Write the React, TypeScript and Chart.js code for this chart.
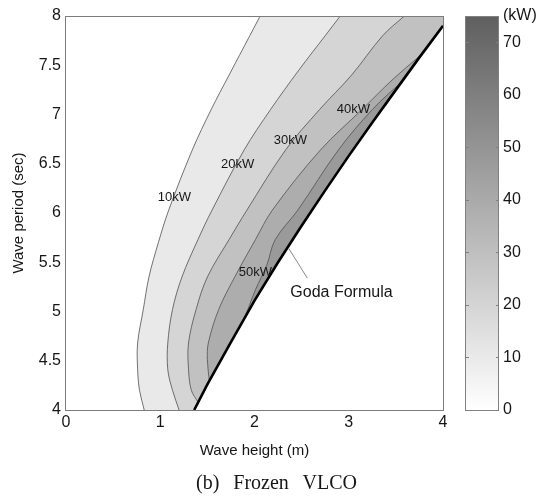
import React, { useEffect, useRef } from 'react';
import { Chart, registerables } from 'chart.js';

Chart.register(...registerables);

// ---- Contour lines (wave height H [m], wave period T [s]) ----
const C10_H = [0.83, 0.78, 0.76, 0.76, 0.82, 0.88, 0.98, 1.09, 1.34, 1.54, 1.73, 1.95, 2.06];
const C10_T = [4.0, 4.2, 4.41, 4.68, 5.02, 5.35, 5.7, 6.03, 6.64, 7.05, 7.4, 7.8, 8.0];

const C20_H = [1.2, 1.13, 1.08, 1.08, 1.13, 1.23, 1.4, 1.55, 1.89, 2.17, 2.47, 2.75, 2.91];
const C20_T = [4.0, 4.2, 4.41, 4.68, 5.02, 5.35, 5.73, 6.03, 6.64, 7.05, 7.45, 7.8, 8.0];

const C30_H = [1.4, 1.33, 1.3, 1.3, 1.38, 1.5, 1.73, 1.92, 2.33, 2.69, 3.03, 3.36, 3.59];
const C30_T = [4.08, 4.2, 4.41, 4.68, 5.02, 5.35, 5.73, 6.03, 6.64, 7.05, 7.4, 7.8, 8.0];

const C40_H = [1.52, 1.5, 1.51, 1.62, 1.79, 2.01, 2.19, 2.7, 3.14, 3.46, 3.76];
const C40_T = [4.3, 4.51, 4.68, 5.02, 5.35, 5.73, 6.03, 6.64, 7.05, 7.35, 7.6];

const C50_H = [1.73, 1.88, 2.01, 2.13, 2.22, 2.46, 2.89, 3.25, 3.57];
const C50_T = [4.66, 4.91, 5.22, 5.47, 5.73, 6.03, 6.64, 7.05, 7.34];

// Goda formula boundary
const GODA_H = [1.36, 1.5, 1.75, 2.0, 2.25, 2.5, 2.75, 3.0, 3.25, 3.5, 3.75, 4.0];
const GODA_T = [4.0, 4.26, 4.69, 5.11, 5.5, 5.87, 6.23, 6.58, 6.92, 7.25, 7.58, 7.9];

// Contour labels
const LEVEL_TEXT = ['10kW', '20kW', '30kW', '40kW', '50kW'];
const LEVEL_LABEL_H = [1.15, 1.82, 2.38, 3.05, 2.01];
const LEVEL_LABEL_T = [6.16, 6.49, 6.74, 7.05, 5.4];

// Goda formula annotation
const GODA_TEXT = 'Goda Formula';
const GODA_TEXT_H = 2.38;
const GODA_TEXT_T = 5.19;
const LEADER_H = [2.36, 2.56];
const LEADER_T = [5.645, 5.34];

// Axes
const X_MIN = 0, X_MAX = 4, X_STEP = 1;
const Y_MIN = 4, Y_MAX = 8, Y_STEP = 0.5;
const X_TITLE = 'Wave height (m)';
const Y_TITLE = 'Wave period (sec)';

// Colour bar
const CB_MIN = 0;
const CB_MAX = 75;
const CB_TICKS = [0, 10, 20, 30, 40, 50, 60, 70, 75];
const CB_UNIT = '(kW)';

const CAPTION = '(b)  Frozen  VLCO';

const BAND_COLORS = ['#e9e9e9', '#d5d5d5', '#c1c1c1', '#adadad', '#9a9a9a'];
const FONT = "'Liberation Sans', Arial, sans-serif";
const TEXT_COLOR = '#161616';
const TENSION = 0.35;

type Pt = { x: number; y: number };
const pts = (h: number[], t: number[]): Pt[] => h.map((x, i) => ({ x, y: t[i] }));

export default function App() {
  const mainRef = useRef<HTMLCanvasElement | null>(null);
  const cbRef = useRef<HTMLCanvasElement | null>(null);

  useEffect(() => {
    Chart.defaults.font.family = FONT;
    Chart.defaults.font.size = 15;
    Chart.defaults.color = TEXT_COLOR;

    const contours: [number[], number[], boolean][] = [
      [C10_H, C10_T, true],
      [C20_H, C20_T, true],
      [C30_H, C30_T, true],
      [C40_H, C40_T, false],
      [C50_H, C50_T, false],
    ];

    // Filled band: contour, then a continuation of its last step (outside the
    // coloured area) and far-away points so that the closing path lies outside
    // the plot or under the white mask beyond the Goda boundary.
    const regionSets = contours.map(([h, t, top], i) => {
      const d = pts(h, t);
      const n = d.length;
      const last = d[n - 1];
      const prev = d[n - 2];
      d.push({ x: 2 * last.x - prev.x, y: 2 * last.y - prev.y });
      if (top) d.push({ x: X_MAX + 0.5, y: Y_MAX + 0.5 });
      d.push({ x: X_MAX + 0.5, y: Y_MIN - 0.5 });
      return {
        data: d,
        showLine: true,
        fill: 'shape',
        tension: TENSION,
        capBezierPoints: false,
        backgroundColor: BAND_COLORS[i],
        borderColor: 'rgba(0,0,0,0)',
        borderWidth: 0,
        pointRadius: 0,
        order: 30 - i,
      };
    });

    const lineSets = contours.map(([h, t]) => ({
      data: pts(h, t),
      showLine: true,
      fill: false,
      tension: TENSION,
      capBezierPoints: false,
      borderColor: '#505050',
      borderWidth: 0.8,
      pointRadius: 0,
      order: 15,
    }));

    const maskData = pts(GODA_H, GODA_T);
    maskData.push({ x: X_MAX + 0.5, y: GODA_T[GODA_T.length - 1] - 0.2 });
    maskData.push({ x: X_MAX + 0.5, y: Y_MIN - 0.5 });
    maskData.push({ x: GODA_H[0], y: Y_MIN - 0.5 });
    const maskSet = {
      data: maskData,
      showLine: true,
      fill: 'shape',
      backgroundColor: '#ffffff',
      borderColor: 'rgba(0,0,0,0)',
      borderWidth: 0,
      pointRadius: 0,
      order: 10,
    };

    const godaSet = {
      data: pts(GODA_H, GODA_T),
      showLine: true,
      fill: false,
      borderColor: '#000000',
      borderWidth: 2.6,
      pointRadius: 0,
      order: 5,
    };

    const leaderSet = {
      data: pts(LEADER_H, LEADER_T),
      showLine: true,
      fill: false,
      borderColor: '#8a8a8a',
      borderWidth: 1,
      pointRadius: 0,
      order: 4,
    };

    const annot = {
      id: 'annot',
      afterDatasetsDraw(chart: any) {
        const { ctx, chartArea: a } = chart;
        const xs = chart.scales.x;
        const ys = chart.scales.y;
        ctx.save();
        ctx.fillStyle = TEXT_COLOR;
        ctx.textBaseline = 'middle';
        ctx.textAlign = 'center';
        ctx.font = `13px ${FONT}`;
        LEVEL_TEXT.forEach((txt, i) => {
          ctx.fillText(txt, xs.getPixelForValue(LEVEL_LABEL_H[i]), ys.getPixelForValue(LEVEL_LABEL_T[i]));
        });
        ctx.textAlign = 'left';
        ctx.font = `16px ${FONT}`;
        ctx.fillText(GODA_TEXT, xs.getPixelForValue(GODA_TEXT_H), ys.getPixelForValue(GODA_TEXT_T));
        ctx.strokeStyle = '#7c7c7c';
        ctx.lineWidth = 1;
        ctx.strokeRect(a.left - 0.5, a.top + 0.5, a.right - a.left + 1, a.bottom - a.top);
        ctx.restore();
      },
    };

    const fmt = (v: any) => String(Number(v));

    const main = new Chart(mainRef.current as HTMLCanvasElement, {
      type: 'scatter',
      data: {
        datasets: [...regionSets, ...lineSets, maskSet, godaSet, leaderSet] as any,
      },
      options: {
        animation: false,
        responsive: false,
        events: [],
        layout: { padding: { left: 0, right: 106, top: 16, bottom: 40 } },
        plugins: { legend: { display: false }, tooltip: { enabled: false } },
        scales: {
          x: {
            type: 'linear',
            min: X_MIN,
            max: X_MAX,
            afterFit: (s: any) => { s.height = 54; },
            ticks: { stepSize: X_STEP, padding: 3, font: { size: 16 }, color: TEXT_COLOR, maxRotation: 0, callback: fmt },
            grid: { display: false, drawTicks: false },
            border: { display: false },
            title: { display: true, text: X_TITLE, font: { size: 15 }, color: TEXT_COLOR, padding: { top: 0, bottom: 4 } },
          },
          y: {
            type: 'linear',
            min: Y_MIN,
            max: Y_MAX,
            afterFit: (s: any) => { s.width = 66; },
            ticks: { stepSize: Y_STEP, padding: 5, font: { size: 16 }, color: TEXT_COLOR, callback: fmt },
            grid: { display: false, drawTicks: false },
            border: { display: false },
            title: { display: true, text: Y_TITLE, font: { size: 15 }, color: TEXT_COLOR, padding: { top: 10, bottom: 0 } },
          },
        },
      } as any,
      plugins: [annot],
    });

    const cbFrame = {
      id: 'cbFrame',
      afterDatasetsDraw(chart: any) {
        const { ctx, chartArea: a } = chart;
        const ys = chart.scales.y;
        ctx.save();
        ctx.strokeStyle = '#808080';
        ctx.lineWidth = 1;
        CB_TICKS.forEach((v) => {
          if (v <= CB_MIN || v >= CB_MAX) return;
          const py = Math.round(ys.getPixelForValue(v)) + 0.5;
          ctx.beginPath();
          ctx.moveTo(a.left, py);
          ctx.lineTo(a.left + 4, py);
          ctx.moveTo(a.right - 3, py);
          ctx.lineTo(a.right, py);
          ctx.stroke();
        });
        ctx.strokeRect(a.left + 0.5, a.top + 0.5, a.right - a.left - 1, a.bottom - a.top);
        ctx.restore();
      },
    };

    const cb = new Chart(cbRef.current as HTMLCanvasElement, {
      type: 'bar',
      data: {
        labels: [''],
        datasets: [
          {
            data: [CB_MAX],
            borderWidth: 0,
            barPercentage: 1,
            categoryPercentage: 1,
            backgroundColor: (c: any) => {
              const area = c.chart.chartArea;
              if (!area) return '#aaaaaa';
              const g = c.chart.ctx.createLinearGradient(0, area.bottom, 0, area.top);
              g.addColorStop(0, '#ffffff');
              g.addColorStop(1, '#5f5f5f');
              return g;
            },
          },
        ],
      },
      options: {
        animation: false,
        responsive: false,
        events: [],
        layout: { padding: { left: 25, right: 0, top: 16, bottom: 94 } },
        plugins: { legend: { display: false }, tooltip: { enabled: false } },
        scales: {
          x: { display: false },
          y: {
            position: 'right',
            min: CB_MIN,
            max: CB_MAX,
            afterFit: (s: any) => { s.width = 50; },
            afterBuildTicks: (s: any) => { s.ticks = CB_TICKS.map((v) => ({ value: v })); },
            ticks: {
              padding: 4,
              font: { size: 16 },
              color: TEXT_COLOR,
              callback: (v: any) => (Number(v) === CB_MAX ? CB_UNIT : String(v)),
            },
            grid: { display: false, drawTicks: false },
            border: { display: false },
          },
        },
      } as any,
      plugins: [cbFrame],
    });

    return () => {
      main.destroy();
      cb.destroy();
    };
  }, []);

  return (
    <div style={{ position: 'fixed', left: 0, top: 0, width: 549, height: 504, background: '#ffffff', overflow: 'hidden' }}>
      <canvas ref={mainRef} width={549} height={504} style={{ position: 'absolute', left: 0, top: 0 }} />
      <canvas ref={cbRef} width={109} height={504} style={{ position: 'absolute', left: 440, top: 0 }} />
      <div
        style={{
          position: 'absolute',
          left: 0,
          top: 471,
          width: 553,
          textAlign: 'center',
          fontFamily: "'Liberation Serif', 'Times New Roman', serif",
          fontSize: 20,
          wordSpacing: 2,
          whiteSpace: 'pre',
          color: TEXT_COLOR,
        }}
      >
        {CAPTION}
      </div>
    </div>
  );
}
